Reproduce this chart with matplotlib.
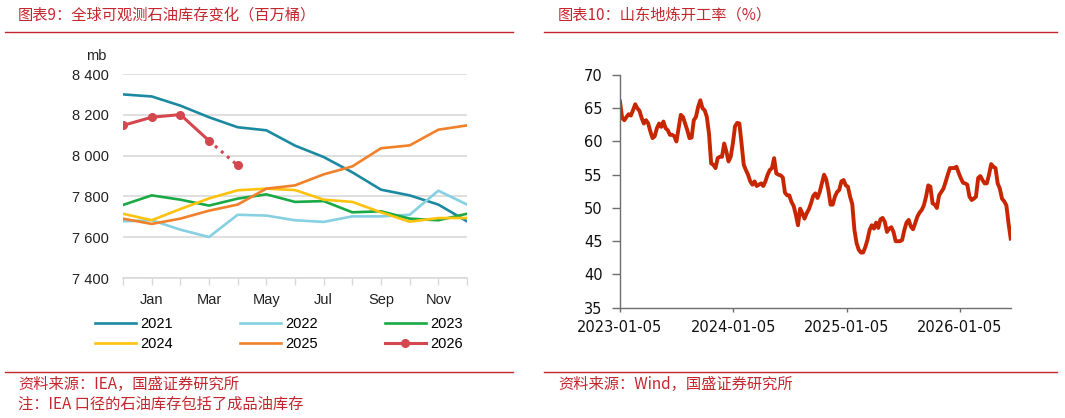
import matplotlib.pyplot as plt
import numpy as np
import pandas as pd

# left chart: global observed oil stocks (mb), Dec of previous year .. Dec
months = ['Dec', 'Jan', 'Feb', 'Mar', 'Apr', 'May', 'Jun',
          'Jul', 'Aug', 'Sep', 'Oct', 'Nov', 'Dec']
stocks_2021 = [8300, 8290, 8245, 8188, 8139, 8124, 8049, 7993, 7918, 7833, 7805, 7760, 7678]
stocks_2022 = [7678, 7683, 7637, 7601, 7710, 7706, 7683, 7675, 7702, 7702, 7710, 7828, 7760]
stocks_2023 = [7758, 7805, 7784, 7755, 7789, 7810, 7773, 7777, 7722, 7727, 7691, 7683, 7715]
stocks_2024 = [7715, 7683, 7738, 7790, 7830, 7838, 7831, 7784, 7773, 7722, 7676, 7694, 7694]
stocks_2025 = [7691, 7665, 7691, 7730, 7760, 7838, 7854, 7908, 7947, 8036, 8050, 8127, 8148]
stocks_2026 = [8148, 8188, 8201, 8073, 7952]   # last point is preliminary (dotted)
year_colors = {'2021': '#1b8aa1', '2022': '#86d0e2', '2023': '#19a946',
               '2024': '#ffc20e', '2025': '#f0802a', '2026': '#d4474f'}

# right chart: Shandong independent refinery run rate (%), weekly from 2023-01-05
run_start = '2023-01-05'
run_rate = [
    66.0, 63.5, 63.2, 63.7, 64.1, 63.9, 64.7, 65.6, 65.0, 64.6,
    63.5, 62.7, 63.2, 62.7, 61.5, 60.5, 60.8, 62.0, 62.7, 62.2,
    63.0, 62.0, 61.7, 61.0, 61.0, 60.8, 60.0, 62.0, 64.0, 63.7,
    62.7, 61.7, 60.5, 60.6, 63.2, 63.7, 65.2, 66.2, 65.0, 64.7,
    63.7, 61.2, 56.7, 56.5, 56.0, 57.5, 57.7, 57.7, 59.7, 58.5,
    57.0, 57.7, 59.7, 62.3, 62.8, 62.7, 59.7, 56.5, 55.7, 55.0,
    54.0, 53.5, 54.0, 53.3, 53.5, 53.7, 53.3, 54.0, 55.0, 55.7,
    56.0, 57.5, 55.2, 55.0, 54.9, 54.6, 52.3, 51.9, 51.9, 50.9,
    50.3, 49.0, 47.4, 49.9, 49.2, 48.4, 49.2, 49.8, 50.7, 51.8,
    52.2, 51.5, 52.4, 53.7, 55.0, 54.3, 52.7, 50.5, 50.5, 51.7,
    52.4, 52.7, 54.0, 54.2, 53.4, 53.2, 51.7, 50.6, 46.7, 44.7,
    43.7, 43.3, 43.3, 44.1, 45.2, 46.7, 47.4, 46.9, 47.8, 47.0,
    48.3, 48.5, 47.9, 46.4, 46.9, 47.1, 46.4, 45.0, 45.0, 45.0,
    45.2, 46.7, 47.8, 48.2, 47.2, 46.8, 47.7, 48.7, 49.3, 49.7,
    50.4, 51.7, 53.4, 53.2, 50.7, 50.5, 50.0, 51.9, 52.4, 52.9,
    53.9, 55.0, 56.0, 56.0, 56.0, 56.2, 55.3, 54.5, 53.8, 53.7,
    53.5, 51.7, 51.2, 51.4, 51.7, 54.5, 54.8, 54.2, 53.7, 53.7,
    55.0, 56.6, 56.2, 56.0, 53.7, 52.9, 51.4, 51.0, 50.4, 47.7,
    45.4,
]
run_ticks = ['2023-01-05', '2024-01-05', '2025-01-05', '2026-01-05']

CJK = ['Noto Sans CJK SC', 'DejaVu Sans']
RED = '#c4262e'

fig = plt.figure(figsize=(10.65, 4.18), dpi=100)

# ---- frame texts and rules
fig.text(18 / 1065, 1 - 15 / 418, '图表9：全球可观测石油库存变化（百万桶）', family=CJK,
         fontsize=11, color=RED, va='center', ha='left')
fig.text(558 / 1065, 1 - 15 / 418, '图表10：山东地炼开工率（%）', family=CJK,
         fontsize=11, color=RED, va='center', ha='left')
for x0, x1 in [(5, 513), (544, 1057)]:
    for y in (31.5, 372):
        fig.add_artist(plt.Line2D([x0 / 1065, x1 / 1065], [1 - y / 418] * 2,
                                  color=RED, lw=1))
fig.text(18 / 1065, 1 - 384 / 418, '资料来源：IEA，国盛证券研究所', family=CJK,
         fontsize=11, color=RED, va='center', ha='left')
fig.text(18 / 1065, 1 - 404 / 418, '注：IEA 口径的石油库存包括了成品油库存', family=CJK,
         fontsize=11, color=RED, va='center', ha='left')
fig.text(558 / 1065, 1 - 384 / 418, '资料来源：Wind，国盛证券研究所', family=CJK,
         fontsize=11, color=RED, va='center', ha='left')

# ---- left chart
ax1 = fig.add_axes([123 / 1065, 140 / 418, 344 / 1065, 204 / 418])
x = np.arange(len(months))
series = [('2021', stocks_2021), ('2022', stocks_2022), ('2023', stocks_2023),
          ('2024', stocks_2024), ('2025', stocks_2025)]
handles = {}
for name, vals in series:
    handles[name], = ax1.plot(x, vals, color=year_colors[name], lw=1.9, zorder=3)
c26 = year_colors['2026']
ax1.plot(x[:4], stocks_2026[:4], color=c26, lw=2.2, marker='o', ms=5.5, zorder=4)
ax1.plot(x[3:5], stocks_2026[3:5], color=c26, lw=2.2, ls=(0, (1, 1.6)), zorder=4)
ax1.plot(x[4], stocks_2026[4], color=c26, marker='o', ms=5.5, zorder=4)
handles['2026'], = ax1.plot([], [], color=c26, lw=2.2, marker='o', ms=5.5)

ax1.set_xlim(0, 12)
ax1.set_ylim(7400, 8400)
ax1.set_yticks(range(7400, 8401, 200))
ax1.set_yticklabels([f'{v:,}'.replace(',', ' ') for v in range(7400, 8401, 200)],
                    family='Liberation Sans', fontsize=10.5, color='#222222')
ax1.set_xticks(x)
ax1.set_xticklabels([m if i % 2 == 1 else '' for i, m in enumerate(months)],
                    family='Liberation Sans', fontsize=10.5, color='#222222')
ax1.grid(axis='y', color='#d9d9d9', lw=1.2)
for s in ('top', 'right', 'left'):
    ax1.spines[s].set_visible(False)
ax1.spines['bottom'].set_color('#d9d9d9')
ax1.spines['bottom'].set_linewidth(1.2)
ax1.tick_params(axis='y', length=0, pad=10)
ax1.tick_params(axis='x', length=5, color='#d9d9d9', width=1, pad=6)
ax1.set_axisbelow(True)
fig.text(96 / 1065, 1 - 56 / 418, 'mb', family='Liberation Sans', fontsize=10.5,
         color='#222222', ha='center', va='center')

order = ['2021', '2024', '2022', '2025', '2023', '2026']
fig.legend([handles[k] for k in order], order, ncol=3, frameon=False,
           loc='upper left', bbox_to_anchor=(95 / 1065, 1 - 317 / 418),
           borderpad=0, borderaxespad=0, handlelength=2.8, handletextpad=0.3,
           columnspacing=4.6, labelspacing=0.42,
           prop={'family': 'Liberation Sans', 'size': 10.5})

# ---- right chart
ax2 = fig.add_axes([620 / 1065, 110.3 / 418, 390.7 / 1065, 232.7 / 418])
dates = pd.date_range(run_start, periods=len(run_rate), freq='7D')
ax2.plot(dates, run_rate, color='#c72600', lw=2.8, solid_joinstyle='round')
ax2.set_xlim(dates[0], dates[-1])
ax2.set_ylim(35, 70)
ax2.set_yticks(range(35, 71, 5))
tick_dates = pd.to_datetime(run_ticks)
ax2.set_xticks(tick_dates)
ax2.set_xticklabels(run_ticks)
for s in ('top', 'right'):
    ax2.spines[s].set_visible(False)
for s in ('left', 'bottom'):
    ax2.spines[s].set_color('#6e6e6e')
    ax2.spines[s].set_linewidth(1.0)
ax2.tick_params(axis='y', length=5.5, width=1, color='#6e6e6e', pad=7,
                labelsize=10.5, labelcolor='#111111')
ax2.tick_params(axis='x', length=3, width=1, color='#6e6e6e', pad=6,
                labelsize=10.5, labelcolor='#111111')

fig.savefig('out.png', dpi=100)
